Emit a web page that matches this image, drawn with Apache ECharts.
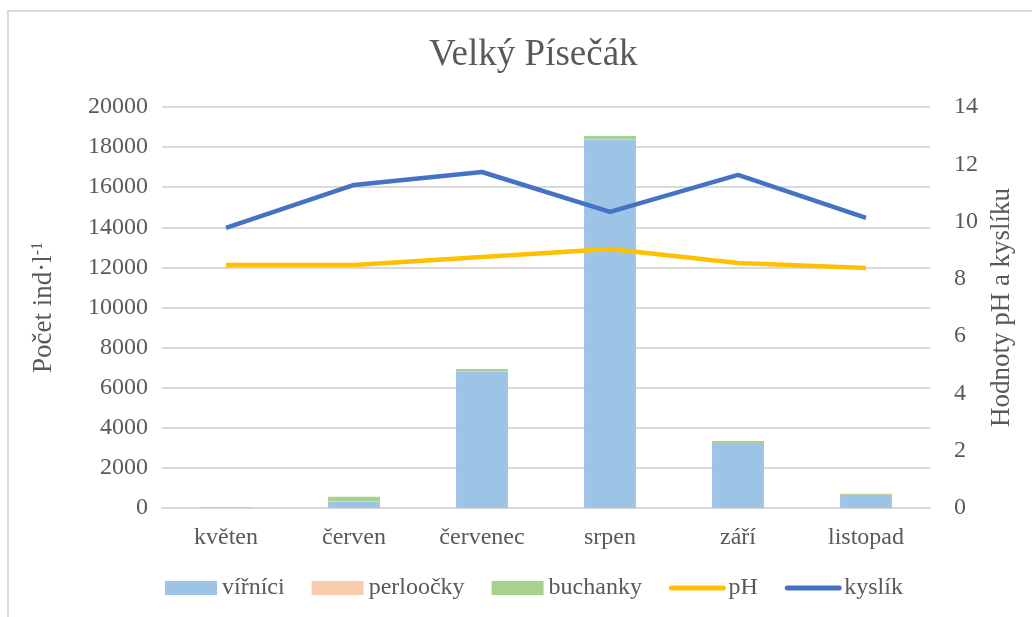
<!DOCTYPE html>
<html>
<head>
<meta charset="utf-8">
<script src="https://cdn.jsdelivr.net/npm/echarts@6/dist/echarts.min.js"></script>
<style>
  html, body { margin: 0; padding: 0; background: #fff; }
  #wrap { position: relative; width: 1032px; height: 617px; overflow: hidden; }
  #frame { position: absolute; left: 7px; top: 10px; width: 1040px; height: 620px;
           border-top: 2px solid #d9d9d9; border-left: 2px solid #d9d9d9; box-sizing: border-box; }
  #chart { position: absolute; left: 0; top: 0; width: 1032px; height: 617px; }
</style>
</head>
<body>
<div id="wrap">
  <div id="frame"></div>
  <div id="chart"></div>
</div>
<script>
const months = ['květen', 'červen', 'červenec', 'srpen', 'září', 'listopad']
const virnici = [20, 300, 6800, 18380, 3240, 650]
const perloocky = [5, 30, 10, 10, 5, 5]
const buchanky = [10, 230, 120, 160, 100, 50]
const ph = [8.48, 8.48, 8.76, 9.04, 8.55, 8.38]
const kyslik = [9.78, 11.28, 11.73, 10.34, 11.63, 10.13]

const textColor = '#595959'
const font = 'Liberation Serif'
const labelSize = 24

const chart = echarts.init(document.getElementById('chart'))

const barSeries = (name, data, color) => ({
  name: name,
  type: 'bar',
  stack: 'pocet',
  data: data,
  barWidth: '40.5%',
  itemStyle: { color: color },
  emphasis: { disabled: true }
})

const lineSeries = (name, data, color) => ({
  name: name,
  type: 'line',
  yAxisIndex: 1,
  data: data,
  symbol: 'none',
  lineStyle: { color: color, width: 4.5 },
  itemStyle: { color: color },
  emphasis: { disabled: true }
})

// legend entry for the lines: thick line only, no dot
const lineLegend = (name, color) => ({
  name: name,
  itemStyle: { color: 'rgba(0,0,0,0)', borderWidth: 0 },
  lineStyle: { color: color, width: 5, cap: 'round' }
})

const option = {
  animation: false,
  textStyle: { fontFamily: font, color: textColor },
  title: {
    text: 'Velký Písečák',
    left: 424,
    top: 32,
    textStyle: { fontFamily: font, fontSize: 37, fontWeight: 'normal', color: textColor }
  },
  legend: {
    bottom: 12,
    left: 160,
    itemWidth: 52,
    itemHeight: 14,
    itemGap: 27,
    textStyle: { fontFamily: font, fontSize: labelSize, color: textColor },
    data: [
      { name: 'vířníci', icon: 'rect' },
      { name: 'perloočky', icon: 'rect' },
      { name: 'buchanky', icon: 'rect' },
      lineLegend('pH', '#FFC000'),
      lineLegend('kyslík', '#4472C4')
    ]
  },
  grid: { left: 162, right: 102, top: 107, bottom: 109 },
  xAxis: {
    type: 'category',
    data: months,
    axisLine: { lineStyle: { color: '#d9d9d9', width: 2 } },
    axisTick: { show: false },
    axisLabel: { fontFamily: font, fontSize: labelSize, color: textColor, margin: 18 }
  },
  yAxis: [
    {
      type: 'value',
      min: 0,
      max: 20000,
      interval: 2000,
      name: 'Počet ind·l{sup|-1}',
      nameLocation: 'middle',
      nameGap: 104,
      nameTextStyle: {
        fontFamily: font, fontSize: 27, color: textColor,
        rich: { sup: { fontFamily: font, fontSize: 16, color: textColor, verticalAlign: 'top', padding: [0, 0, 12, 0] } }
      },
      axisLine: { show: false },
      axisTick: { show: false },
      axisLabel: { fontFamily: font, fontSize: labelSize, color: textColor, margin: 14, formatter: v => String(v) },
      splitLine: { lineStyle: { color: '#d9d9d9', width: 2 } }
    },
    {
      type: 'value',
      min: 0,
      max: 14,
      interval: 2,
      name: 'Hodnoty pH a kyslíku',
      nameLocation: 'middle',
      nameGap: 56,
      nameRotate: 90,
      nameTextStyle: { fontFamily: font, fontSize: 27, color: textColor },
      axisLine: { show: false },
      axisTick: { show: false },
      axisLabel: { fontFamily: font, fontSize: labelSize, color: textColor, margin: 24 },
      splitLine: { show: false }
    }
  ],
  series: [
    barSeries('vířníci', virnici, '#9DC3E6'),
    barSeries('perloočky', perloocky, '#F8CBAD'),
    barSeries('buchanky', buchanky, '#A9D18E'),
    lineSeries('pH', ph, '#FFC000'),
    lineSeries('kyslík', kyslik, '#4472C4')
  ]
}

chart.setOption(option)
</script>
</body>
</html>
